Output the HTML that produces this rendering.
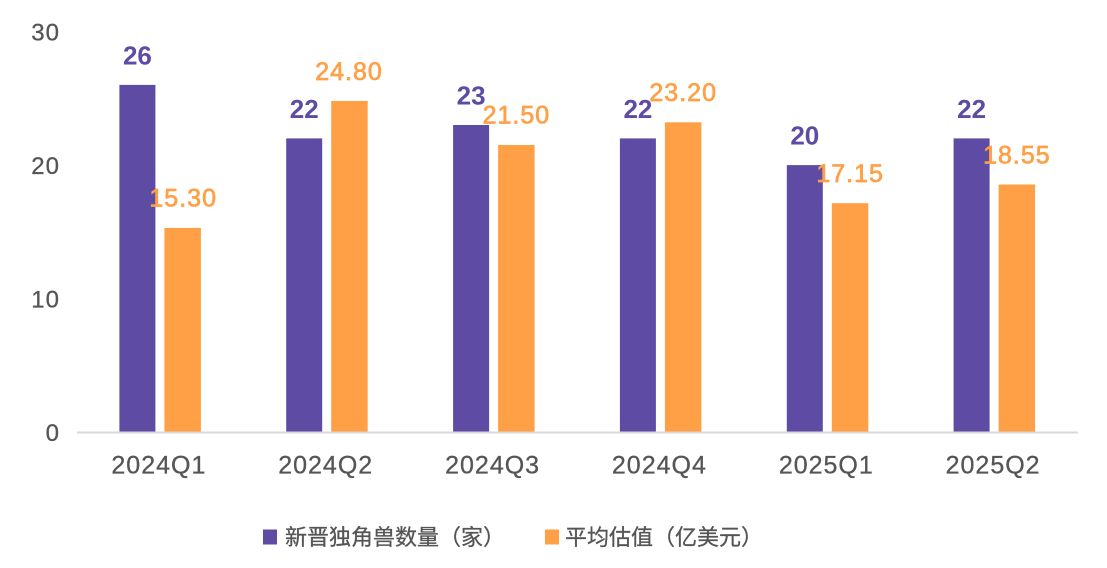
<!DOCTYPE html>
<html>
<head>
<meta charset="utf-8">
<style>
html,body{margin:0;padding:0;background:#fff;}
svg{display:block;}
text{font-family:"Liberation Sans","Noto Sans CJK SC",sans-serif;}
</style>
</head>
<body>
<svg width="1107" height="568" viewBox="0 0 1107 568" xmlns="http://www.w3.org/2000/svg">
  <rect width="1107" height="568" fill="#fff"/>
  <!-- Y axis labels -->
  <g font-size="24" fill="#555" stroke="#555" stroke-width="0.3" text-anchor="end" letter-spacing="1">
    <text x="60" y="40.5">30</text>
    <text x="60" y="174">20</text>
    <text x="60" y="307.5">10</text>
    <text x="60" y="441">0</text>
  </g>
  <!-- bars -->
  <g fill="#5e4ba3">
    <rect x="119.4" y="84.9" width="36" height="347.6"/>
    <rect x="286.2" y="138.4" width="36" height="294.1"/>
    <rect x="453.1" y="125.0" width="36" height="307.5"/>
    <rect x="619.9" y="138.4" width="36" height="294.1"/>
    <rect x="786.8" y="165.1" width="36" height="267.4"/>
    <rect x="953.6" y="138.4" width="36" height="294.1"/>
  </g>
  <g fill="#ffa046">
    <rect x="164.4" y="227.9" width="36.5" height="204.6"/>
    <rect x="331.2" y="100.9" width="36.5" height="331.6"/>
    <rect x="498.1" y="145.0" width="36.5" height="287.5"/>
    <rect x="664.9" y="122.3" width="36.5" height="310.2"/>
    <rect x="831.8" y="203.2" width="36.5" height="229.3"/>
    <rect x="998.6" y="184.5" width="36.5" height="248.0"/>
  </g>
  <!-- axis line -->
  <line x1="77" y1="432.5" x2="1078" y2="432.5" stroke="#d9d9d9" stroke-width="2"/>
  <!-- purple labels -->
  <g font-size="26" font-weight="bold" fill="#5e4ba3" text-anchor="middle">
    <text x="137.4" y="64.5">26</text>
    <text x="304.2" y="118">22</text>
    <text x="471.1" y="104.5">23</text>
    <text x="637.9" y="118">22</text>
    <text x="804.8" y="144.5">20</text>
    <text x="971.6" y="118">22</text>
  </g>
  <!-- orange labels -->
  <g font-size="25" fill="#ffa046" stroke="#ffa046" stroke-width="0.7" text-anchor="middle" letter-spacing="1">
    <text x="183.2" y="206.7">15.30</text>
    <text x="349" y="80">24.80</text>
    <text x="516.4" y="123.5">21.50</text>
    <text x="683.2" y="101">23.20</text>
    <text x="850.1" y="182">17.15</text>
    <text x="1016.9" y="163.5">18.55</text>
  </g>
  <!-- x labels -->
  <g font-size="25" fill="#555" stroke="#555" stroke-width="0.3" text-anchor="middle" letter-spacing="1">
    <text x="158.9" y="473.5">2024Q1</text>
    <text x="325.7" y="473.5">2024Q2</text>
    <text x="492.6" y="473.5">2024Q3</text>
    <text x="659.4" y="473.5">2024Q4</text>
    <text x="826.3" y="473.5">2025Q1</text>
    <text x="993.1" y="473.5">2025Q2</text>
  </g>
  <!-- legend -->
  <rect x="263" y="529.5" width="14" height="15" fill="#5e4ba3"/>
  <text x="285" y="545" font-size="22" fill="#555" stroke="#555" stroke-width="0.3" font-family="'Noto Sans CJK SC','Liberation Sans',sans-serif">新晋独角兽数量（家）</text>
  <rect x="545" y="529.5" width="14" height="15" fill="#ffa046"/>
  <text x="565" y="545" font-size="22" fill="#555" stroke="#555" stroke-width="0.3" font-family="'Noto Sans CJK SC','Liberation Sans',sans-serif">平均估值（亿美元）</text>
</svg>
</body>
</html>
